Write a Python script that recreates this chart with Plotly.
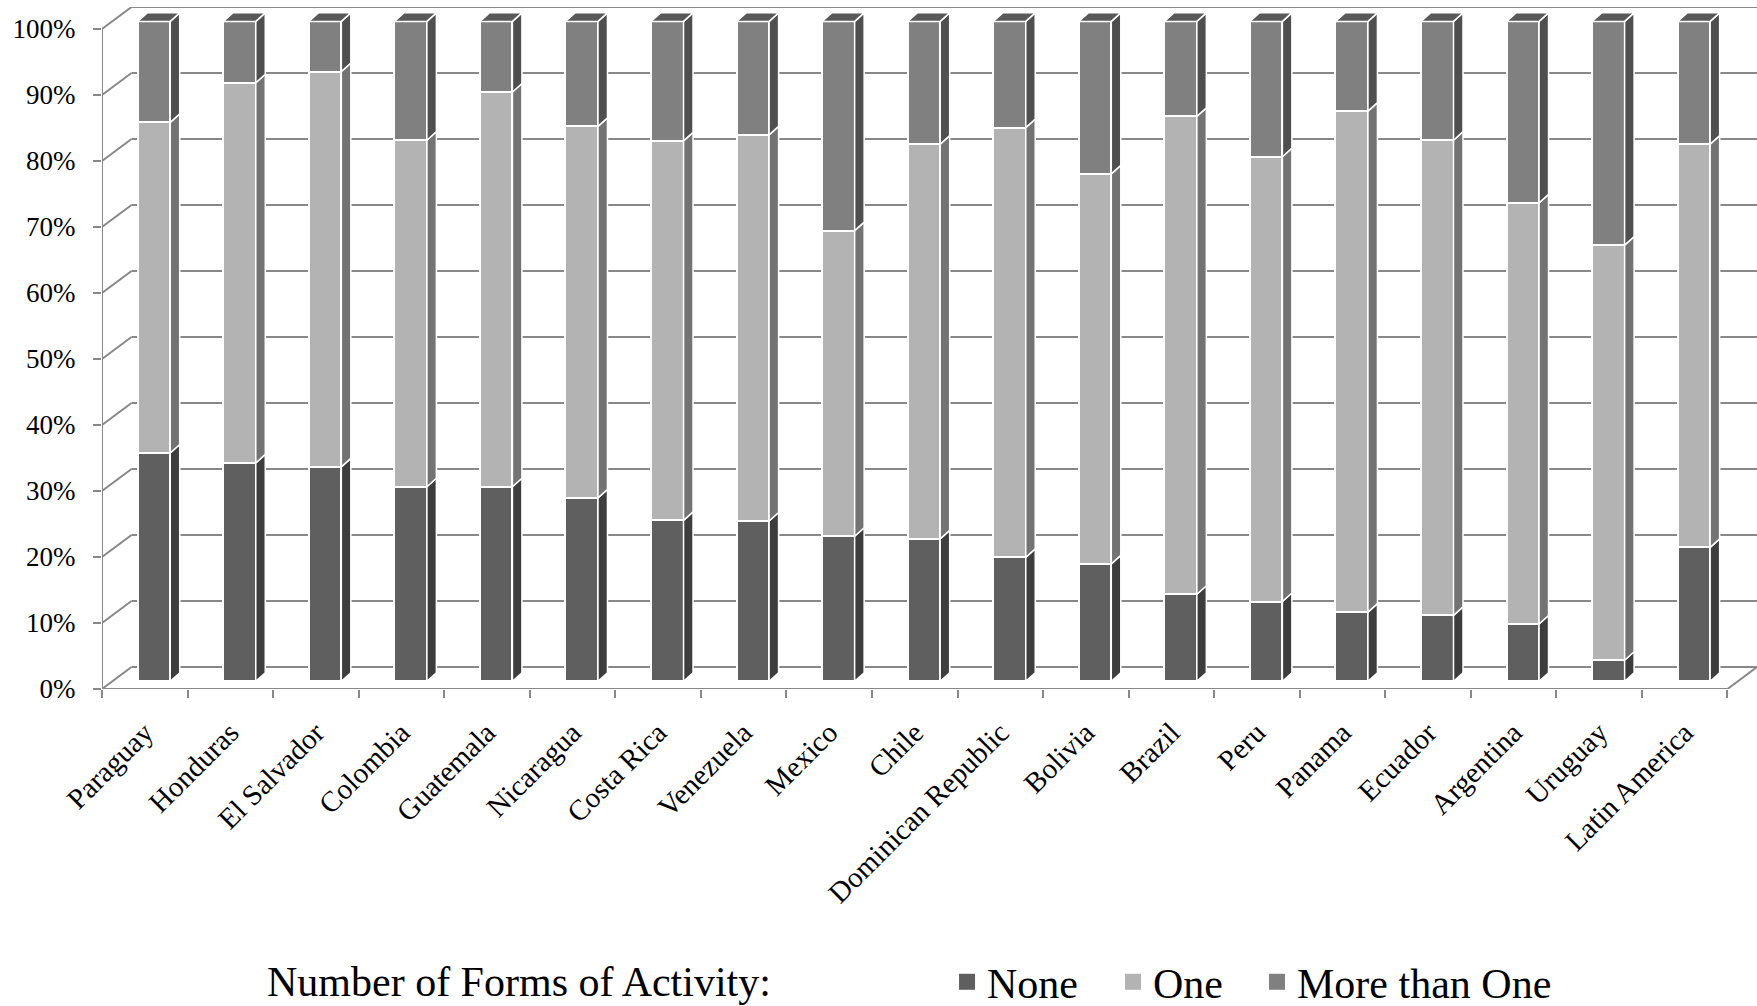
import plotly.graph_objects as go

# Share of respondents by number of forms of activity (percent)
countries = ["Paraguay", "Honduras", "El Salvador", "Colombia", "Guatemala", "Nicaragua",
             "Costa Rica", "Venezuela", "Mexico", "Chile", "Dominican Republic", "Bolivia",
             "Brazil", "Peru", "Panama", "Ecuador", "Argentina", "Uruguay", "Latin America"]
none_pct = [34.6, 33.1, 32.5, 29.5, 29.5, 27.8, 24.4, 24.3, 22.0, 21.6, 18.8, 17.8,
            13.2, 12.1, 10.5, 10.0, 8.7, 3.2, 20.3]
one_pct = [50.1, 57.6, 59.9, 52.5, 59.8, 56.3, 57.5, 58.5, 46.3, 59.8, 65.1, 59.1,
           72.4, 67.4, 75.9, 72.0, 63.8, 62.9, 61.1]
more_pct = [15.3, 9.3, 7.6, 18.0, 10.7, 15.9, 18.1, 17.2, 31.7, 18.6, 16.1, 23.1,
            14.4, 20.5, 13.6, 18.0, 27.5, 33.9, 18.6]
y_ticks = [0, 10, 20, 30, 40, 50, 60, 70, 80, 90, 100]

series = [
    ("None", none_pct, "#5f5f5f", "#3d3d3d"),
    ("One", one_pct, "#b3b3b3", "#737373"),
    ("More than One", more_pct, "#808080", "#4f4f4f"),
]
TOP_FACE = "#595959"
GRID = "#888888"
FONT = "Liberation Serif"

# oblique 3-D projection, in data units
DX, DY = 0.345, 3.33      # front edge -> back wall
BX, BY = 0.1075, 1.15     # front edge -> bar front face
PX, PY = 0.111, 1.29      # bar depth
BAR_W = 0.38

n = len(countries)
idx = list(range(n))
x_lo, x_hi = -0.5, n - 0.5 + DX
y_lo, y_hi = 0, 100 + DY

fig = go.Figure()

legend_ids = ["legend", "legend2", "legend3"]
legend_x = [0.5106, 0.6109, 0.6979]

for (name, vals, front, side), lid in zip(series, legend_ids):
    fig.add_trace(go.Bar(
        x=idx, y=vals, name=name, width=BAR_W, showlegend=False,
        marker=dict(color=front, line=dict(color="white", width=2)),
        xaxis="x2", yaxis="y2", hoverinfo="skip",
    ))
    # square legend key for the series
    fig.add_trace(go.Scatter(
        x=[None], y=[None], mode="markers", name=name, legend=lid,
        marker=dict(symbol="square", size=19, color=front),
        hoverinfo="skip",
    ))

shapes = []
# back wall gridlines and left wall diagonals
for v in y_ticks:
    shapes.append(dict(type="line", xref="x", yref="y", layer="below",
                       x0=-0.5 + DX, y0=v + DY, x1=n - 0.5 + DX, y1=v + DY,
                       line=dict(color=GRID, width=2)))
    shapes.append(dict(type="line", xref="x", yref="y", layer="below",
                       x0=-0.5, y0=v, x1=-0.5 + DX, y1=v + DY,
                       line=dict(color=GRID, width=2)))
# front value axis, front floor edge, right floor edge
shapes.append(dict(type="line", xref="x", yref="y", layer="below",
                   x0=-0.5, y0=0, x1=-0.5, y1=100, line=dict(color=GRID, width=2)))
shapes.append(dict(type="line", xref="x", yref="y", layer="below",
                   x0=-0.5, y0=0, x1=n - 0.5, y1=0, line=dict(color=GRID, width=2)))
shapes.append(dict(type="line", xref="x", yref="y", layer="below",
                   x0=n - 0.5, y0=0, x1=n - 0.5 + DX, y1=DY, line=dict(color=GRID, width=2)))

# side faces of every segment and top face of each column
for i in idx:
    base = 0.0
    xr = i + BAR_W / 2
    xl = i - BAR_W / 2
    for name, vals, front, side in series:
        top = base + vals[i]
        path = (f"M {xr},{base} L {xr + PX},{base + PY} L {xr + PX},{top + PY} "
                f"L {xr},{top} Z")
        shapes.append(dict(type="path", xref="x2", yref="y2", layer="above", path=path,
                           fillcolor=side, line=dict(color="white", width=1.5)))
        base = top
    path = (f"M {xl},{base} L {xr},{base} L {xr + PX},{base + PY} "
            f"L {xl + PX},{base + PY} Z")
    shapes.append(dict(type="path", xref="x2", yref="y2", layer="above", path=path,
                       fillcolor=TOP_FACE, line=dict(color="white", width=1.5)))

legend_style = dict(
    orientation="h", xanchor="left", y=-0.4296, yanchor="middle",
    itemsizing="trace",
    font=dict(family=FONT, size=42, color="black"),
    bgcolor="rgba(0,0,0,0)",
)

fig.update_layout(
    width=1757, height=1006,
    margin=dict(l=102, r=0, t=7, b=317, autoexpand=False),
    paper_bgcolor="white", plot_bgcolor="white",
    barmode="stack", bargap=0,
    shapes=shapes,
    showlegend=True,
    font=dict(family=FONT, color="black"),
    xaxis=dict(
        range=[x_lo, x_hi], showgrid=False, zeroline=False, showline=False,
        tickmode="array", tickvals=idx, ticktext=countries, tickangle=-45,
        ticks="outside", ticklen=8, tickcolor="rgba(0,0,0,0)", ticklabelstandoff=6,
        tickfont=dict(family=FONT, size=29, color="black"),
        minor=dict(tickmode="array", tickvals=[k - 0.5 for k in range(n + 1)],
                   ticks="outside", ticklen=8, tickwidth=2, tickcolor=GRID, showgrid=False),
    ),
    yaxis=dict(
        range=[y_lo, y_hi], showgrid=False, zeroline=False, showline=False,
        tickmode="array", tickvals=y_ticks, ticktext=[f"{v}%" for v in y_ticks],
        ticks="outside", ticklen=8, tickwidth=2, tickcolor=GRID,
        ticklabelstandoff=12,
        tickfont=dict(family=FONT, size=27, color="black"),
    ),
    xaxis2=dict(range=[x_lo - BX, x_hi - BX], overlaying="x", visible=False),
    yaxis2=dict(range=[y_lo - BY, y_hi - BY], overlaying="y", visible=False),
    legend=dict(x=legend_x[0], **legend_style),
    legend2=dict(x=legend_x[1], **legend_style),
    legend3=dict(x=legend_x[2], **legend_style),
    annotations=[dict(
        text="Number of Forms of Activity:", xref="paper", yref="paper",
        x=0.0985, y=-0.4296, xanchor="left", yanchor="middle", showarrow=False,
        font=dict(family=FONT, size=42, color="black"),
    )],
)

fig.write_html("out.html")
